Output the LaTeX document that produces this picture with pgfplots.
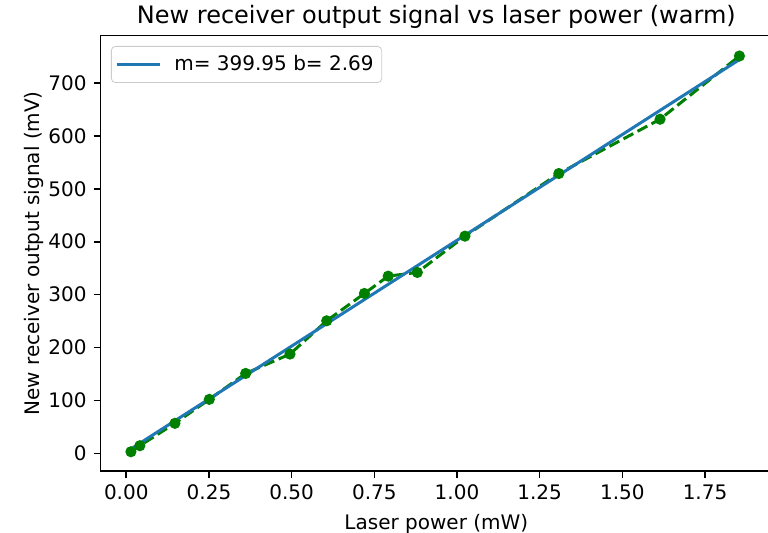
\documentclass[border=0pt]{standalone}
\usepackage{fontspec}
\setmainfont{DejaVu Sans}
\usepackage{pgfplots}
\pgfplotsset{compat=1.18}
\usetikzlibrary{calc}
\definecolor{mplblue}{HTML}{1F77B4}
\definecolor{mplgreen}{HTML}{008000}

\begin{document}
\begin{tikzpicture}
\begin{axis}[
  name=ax,
  scale only axis,
  width=335.65pt, height=217.65pt,
  xmin=-0.0774, xmax=1.9525,
  ymin=-33.4, ymax=789.4,
  xtick={0,0.25,0.5,0.75,1,1.25,1.5,1.75},
  xticklabels={0.00,0.25,0.50,0.75,1.00,1.25,1.50,1.75},
  ytick={0,100,200,300,400,500,600,700},
  tick pos=left, tick align=outside,
  major tick length=3.5pt,
  every tick/.style={black, line width=0.8pt},
  axis line style={line width=0.8pt},
  /pgf/number format/assume math mode=true,
  tick label style={font=\fontsize{10}{12}\selectfont},
  label style={font=\fontsize{10}{12}\selectfont},
  title={New receiver output signal vs laser power (warm)},
  every axis title/.style={at={(0.5,1)}, anchor=base, yshift=6pt, inner sep=0pt,
    font=\fontsize{12}{14.4}\selectfont},
  xlabel={Laser power (mW)},
  ylabel={New receiver output signal (mV)},
  ylabel shift=-4.5pt,
  legend cell align=left,
  legend style={at={(axis description cs:0,1)}, anchor=north west,
    xshift=5.15pt, yshift=-5.15pt,
    draw=black!20, rounded corners=2pt, fill=white, fill opacity=0.8, text opacity=1,
    font=\fontsize{10}{12}\selectfont, inner xsep=2pt, inner ysep=2.5pt},
  legend image code/.code={\draw[#1] (0pt,0pt) -- (21.8pt,0pt); \path (26pt,0pt);},
]
% measured data (green dashed with dots)
\addplot[mplgreen, line width=1.5pt, dash pattern=on 5.55pt off 2.4pt,
  mark=*, mark size=2pt, mark options={solid}, forget plot] coordinates {
  (0.014, 3.0)
  (0.041, 14.4)
  (0.147, 56.7)
  (0.251, 102.0)
  (0.361, 151.0)
  (0.495, 187.6)
  (0.606, 250.5)
  (0.720, 302.2)
  (0.792, 334.9)
  (0.880, 341.9)
  (1.024, 410.5)
  (1.308, 528.9)
  (1.614, 631.5)
  (1.854, 751.0)
};
% linear fit
\addplot[mplblue, line width=1.5pt] coordinates {
  (0.014, 8.3)
  (1.854, 744.2)
};
\addlegendentry{m= 399.95 b= 2.69}
\end{axis}
\pgfresetboundingbox
\useasboundingbox ($(ax.south west)+(-50.35pt,-30.5pt)$) rectangle ($(ax.north west)+(333.65pt,17.85pt)$);
\end{tikzpicture}
\end{document}
